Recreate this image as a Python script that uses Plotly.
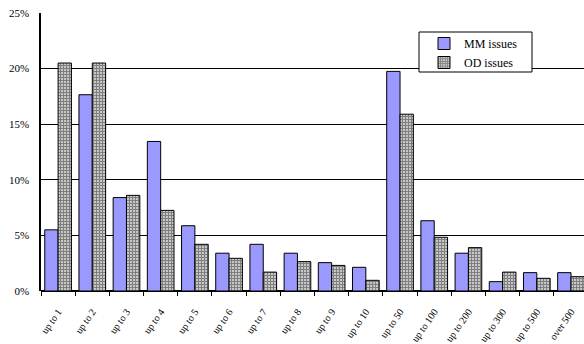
import plotly.graph_objects as go

categories = ["up to 1", "up to 2", "up to 3", "up to 4", "up to 5", "up to 6",
              "up to 7", "up to 8", "up to 9", "up to 10", "up to 50", "up to 100",
              "up to 200", "up to 300", "up to 500", "over 500"]
mm_issues = [5.5, 17.65, 8.4, 13.45, 5.87, 3.4, 4.2, 3.4, 2.55, 2.13, 19.75, 6.32,
             3.4, 0.84, 1.65, 1.65]
od_issues = [20.5, 20.5, 8.6, 7.25, 4.2, 2.94, 1.7, 2.64, 2.3, 0.96, 15.9, 4.83,
             3.9, 1.7, 1.14, 1.29]
y_ticks = [0, 5, 10, 15, 20, 25]
y_labels = ["0%", "5%", "10%", "15%", "20%", "25%"]

FONT = "Liberation Serif"
W, H = 584, 344
ML, MR, MT, MB = 41, 0, 13, 53

fig = go.Figure()
fig.add_trace(go.Bar(
    x=categories, y=mm_issues, name="MM issues",
    marker=dict(color="#9999FF", line=dict(color="black", width=1)),
))
fig.add_trace(go.Bar(
    x=categories, y=od_issues, name="OD issues",
    marker=dict(color="white", line=dict(color="black", width=1),
                pattern=dict(shape="+", size=3, solidity=0.75,
                             fgcolor="black", bgcolor="white")),
))

# legend frame drawn in pixel-based paper coordinates
pw, ph = W - ML - MR, H - MT - MB
def px(x):
    return (x - ML) / pw
def py(y):
    return (H - MB - y) / ph

fig.add_shape(type="rect", xref="paper", yref="paper",
              x0=px(419), x1=px(532), y0=py(72), y1=py(32),
              line=dict(color="black", width=1), fillcolor="white", layer="above")

fig.update_layout(
    width=W, height=H,
    margin=dict(l=ML, r=MR, t=MT, b=MB, autoexpand=False),
    paper_bgcolor="white", plot_bgcolor="white",
    font=dict(family=FONT, size=11, color="black"),
    barmode="group", bargap=0.22, bargroupgap=0,
    showlegend=True,
    legend=dict(x=px(424), y=py(29), xanchor="left", yanchor="top",
                bgcolor="rgba(0,0,0,0)", borderwidth=0,
                font=dict(family=FONT, size=12), tracegroupgap=0,
                itemwidth=30),
    xaxis=dict(
        range=[-0.5, 15.38], tickangle=-55, tickson="boundaries",
        ticks="outside", ticklen=4, tickcolor="black",
        showline=False, showgrid=False, zeroline=False,
        ticklabelstandoff=12, automargin=False,
        tickfont=dict(family=FONT, size=10),
    ),
    yaxis=dict(
        range=[0, 25], tickvals=y_ticks, ticktext=y_labels,
        showgrid=True, gridcolor="black", gridwidth=1,
        showline=True, linecolor="black", linewidth=1.5,
        zeroline=True, zerolinecolor="black", zerolinewidth=1.5,
        ticks="", ticklabelstandoff=8, automargin=False,
        tickfont=dict(family=FONT, size=11),
    ),
)

fig.write_html("out.html")
